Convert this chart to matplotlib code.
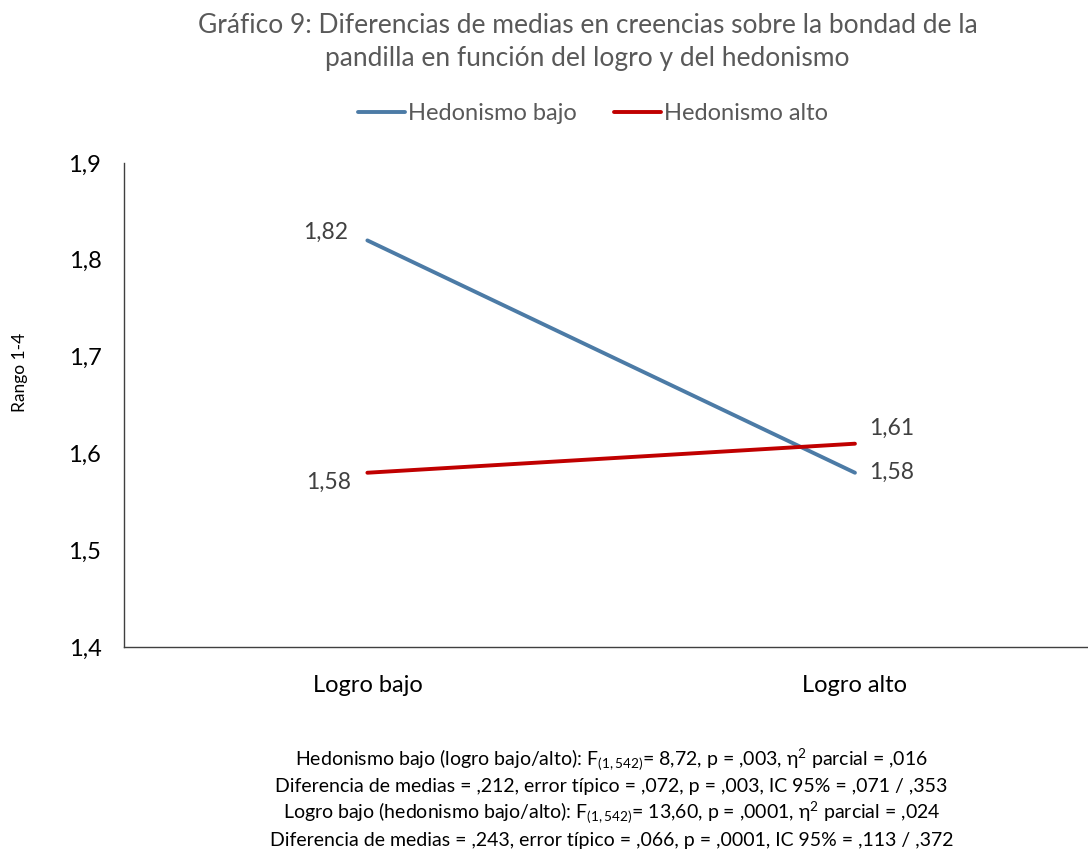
import matplotlib.pyplot as plt

plt.rcParams['font.family'] = ['Lato', 'DejaVu Sans']
plt.rcParams['mathtext.fontset'] = 'custom'
plt.rcParams['mathtext.rm'] = 'Lato'
plt.rcParams['mathtext.it'] = 'Lato:italic'

categorias = ['Logro bajo', 'Logro alto']
hedonismo_bajo = [1.82, 1.58]
hedonismo_alto = [1.58, 1.61]
yticks = [1.4, 1.5, 1.6, 1.7, 1.8, 1.9]

azul = '#4c7ba6'
rojo = '#c00000'
gris = '#595959'

fig = plt.figure(figsize=(10.88, 8.6), dpi=100)
ax = fig.add_axes([0.1136, 0.2477, 0.8864, 0.5628])

x = list(range(len(categorias)))
ax.plot(x, hedonismo_bajo, color=azul, lw=2.8, solid_capstyle='round', label='Hedonismo bajo')
ax.plot(x, hedonismo_alto, color=rojo, lw=2.8, solid_capstyle='round', label='Hedonismo alto')

# etiquetas de valores: a la izquierda en el primer punto, a la derecha en el segundo
def fmt(v):
    return f'{v:.2f}'.replace('.', ',')

ax.annotate(fmt(hedonismo_bajo[0]), (0, hedonismo_bajo[0]), xytext=(-14, 6), textcoords='offset points',
            ha='right', va='center', fontsize=16.5, color='#404040')
ax.annotate(fmt(hedonismo_alto[0]), (0, hedonismo_alto[0]), xytext=(-12, -7), textcoords='offset points',
            ha='right', va='center', fontsize=16.5, color='#404040')
ax.annotate(fmt(hedonismo_bajo[1]), (1, hedonismo_bajo[1]), xytext=(10, 0), textcoords='offset points',
            ha='left', va='center', fontsize=16.5, color='#404040')
ax.annotate(fmt(hedonismo_alto[1]), (1, hedonismo_alto[1]), xytext=(10, 11), textcoords='offset points',
            ha='left', va='center', fontsize=16.5, color='#404040')

ax.set_xlim(-0.5, 1.478)
ax.set_ylim(1.4, 1.9)
ax.set_yticks(yticks)
ax.set_yticklabels([f'{t:.1f}'.replace('.', ',') for t in yticks], fontsize=17, color='black')
ax.set_xticks(x)
ax.set_xticklabels(categorias, fontsize=17, color='black')
ax.tick_params(axis='y', length=0, pad=16)
ax.tick_params(axis='x', length=0, pad=20)
for s in ['top', 'right']:
    ax.spines[s].set_visible(False)
for s in ['left', 'bottom']:
    ax.spines[s].set_color('#404040')
    ax.spines[s].set_linewidth(1.0)
fig.text(20 / 1088, 1 - 372 / 860, 'Rango 1-4', rotation=90, ha='center', va='center', fontsize=12.5)

fig.text(0.54, 0.985, 'Gráfico 9: Diferencias de medias en creencias sobre la bondad de la\n'
         'pandilla en función del logro y del hedonismo',
         ha='center', va='top', fontsize=19, color=gris, linespacing=1.4)

fig.legend(loc='center', bbox_to_anchor=(0.545, 0.868), ncol=2, frameon=False, fontsize=17,
           handlelength=2.0, handletextpad=0.1, columnspacing=1.6, labelcolor=gris)

notas = [
    r'Hedonismo bajo (logro bajo/alto): F$_{(1,542)}$= 8,72, p = ,003, η$^{2}$ parcial = ,016',
    r'Diferencia de medias = ,212, error típico = ,072, p = ,003, IC 95% = ,071 / ,353',
    r'Logro bajo (hedonismo bajo/alto): F$_{(1,542)}$= 13,60, p = ,0001, η$^{2}$ parcial = ,024',
    r'Diferencia de medias = ,243, error típico = ,066, p = ,0001, IC 95% = ,113 / ,372',
]
for i, t in enumerate(notas):
    fig.text(0.562, 1 - (760 + i * 26.7) / 860, t, ha='center', va='center', fontsize=14, color='black')

fig.savefig('out.png', dpi=100)
